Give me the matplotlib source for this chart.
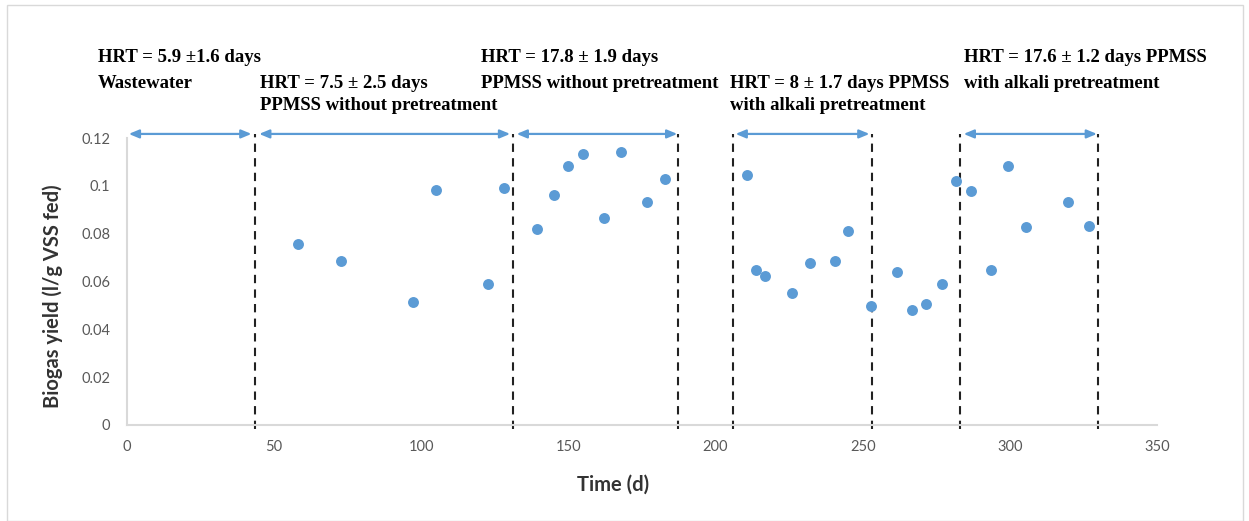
import matplotlib
matplotlib.use("Agg")
import matplotlib.pyplot as plt
from matplotlib.patches import Rectangle

# ---- data ----
time_d = [58.1, 72.7, 97.2, 105.0, 122.5, 128.1,
          139.2, 145.2, 150.0, 155.0, 162.2, 167.7, 176.7, 182.8,
          210.7, 213.8, 216.9, 226.0, 232.1, 240.7, 244.9, 252.8,
          261.7, 266.6, 271.6, 276.9, 281.8,
          286.7, 293.5, 299.5, 305.5, 319.6, 326.8]
biogas_yield = [0.0758, 0.0684, 0.0513, 0.0984, 0.0588, 0.0990,
                0.0820, 0.0963, 0.1081, 0.1134, 0.0864, 0.1141, 0.0932, 0.1028,
                0.1045, 0.0648, 0.0625, 0.0551, 0.0677, 0.0684, 0.0813, 0.0497,
                0.0640, 0.0482, 0.0505, 0.0588, 0.1021,
                0.0977, 0.0648, 0.1081, 0.0827, 0.0932, 0.0834]

# dashed period boundaries (days)
boundaries = [43.5, 131.1, 187.4, 205.8, 253.0, 283.2, 330.1]
# double arrows (start, end) in days
arrow_spans = [(0.6, 42.3), (44.9, 130.2), (132.4, 187.0), (206.8, 252.3), (284.3, 329.6)]

# annotation text blocks: (x_px, y_px, text)
hrt_labels = [
    (98, 58, "HRT = 5.9 \u00b11.6 days"),
    (98, 83, "Wastewater"),
    (260, 83, "HRT = 7.5 \u00b1 2.5 days"),
    (260, 106, "PPMSS without pretreatment"),
    (481, 58, "HRT = 17.8 \u00b1 1.9 days"),
    (481, 83, "PPMSS without pretreatment"),
    (730, 83, "HRT = 8 \u00b1 1.7 days PPMSS"),
    (730, 106, "with alkali pretreatment"),
    (964, 58, "HRT = 17.6 \u00b1 1.2 days PPMSS"),
    (964, 83, "with alkali pretreatment"),
]

x_ticks = [0, 50, 100, 150, 200, 250, 300, 350]
y_ticks = [0, 0.02, 0.04, 0.06, 0.08, 0.1, 0.12]
y_ticklabels = ["0", "0.02", "0.04", "0.06", "0.08", "0.1", "0.12"]

W, H = 1249, 521
fig = plt.figure(figsize=(W / 100, H / 100), dpi=100)
fig.patch.set_facecolor("white")

# light frame around the chart area
fig.add_artist(Rectangle((7 / W, 0), (1243 - 7) / W, (H - 5) / H,
                         transform=fig.transFigure, fill=False,
                         edgecolor="#d9d9d9", lw=1.0))

ax = fig.add_axes([127 / W, (H - 425) / H, (1157 - 127) / W, (425 - 138) / H])
ax.set_xlim(0, 350)
ax.set_ylim(0, 0.12)

blue = "#5b9bd5"
grey_txt = "#595959"

ax.scatter(time_d, biogas_yield, s=62, color=blue, zorder=3, clip_on=False, linewidths=0)

for b in boundaries:
    ax.plot([b, b], [-0.0015, 0.1215], color="#222222", lw=1.5,
            linestyle=(0, (4, 3)), clip_on=False, zorder=2)

for a0, a1 in arrow_spans:
    ax.annotate("", xy=(a1, 0.1217), xytext=(a0, 0.1217),
                xycoords="data", textcoords="data",
                arrowprops=dict(arrowstyle="<|-|>,head_length=0.6,head_width=0.25",
                                color=blue, lw=1.6, shrinkA=0, shrinkB=0),
                annotation_clip=False)

for sp in ["top", "right"]:
    ax.spines[sp].set_visible(False)
ax.spines["left"].set_color("#d9d9d9")
ax.spines["bottom"].set_color("#d9d9d9")
ax.spines["left"].set_linewidth(1.5)
ax.spines["bottom"].set_linewidth(1.5)

ax.set_xticks(x_ticks)
ax.set_xticklabels([str(t) for t in x_ticks])
ax.set_yticks(y_ticks)
ax.set_yticklabels(y_ticklabels)
ax.tick_params(axis="both", length=0, labelsize=10.5, colors=grey_txt)
ax.tick_params(axis="x", pad=11)
ax.tick_params(axis="y", pad=12)
for lab in ax.get_xticklabels() + ax.get_yticklabels():
    lab.set_fontfamily("Lato")

fig.text(613 / W, 1 - 485 / H, "Time (d)", ha="center", va="center",
         fontsize=14.5, fontweight="bold", color="#333333", fontfamily="Lato")
fig.text(53 / W, 1 - 296 / H, "Biogas yield (l/g VSS fed)", ha="center", va="center",
         rotation=90, fontsize=14.5, fontweight="bold", color="#333333", fontfamily="Lato")

for xp, yp, txt in hrt_labels:
    fig.text(xp / W, 1 - yp / H, txt, ha="left", va="center",
             fontsize=13.5, fontweight="bold", fontfamily="Liberation Serif",
             color="black")

fig.savefig("out.png", dpi=100, facecolor="white")
